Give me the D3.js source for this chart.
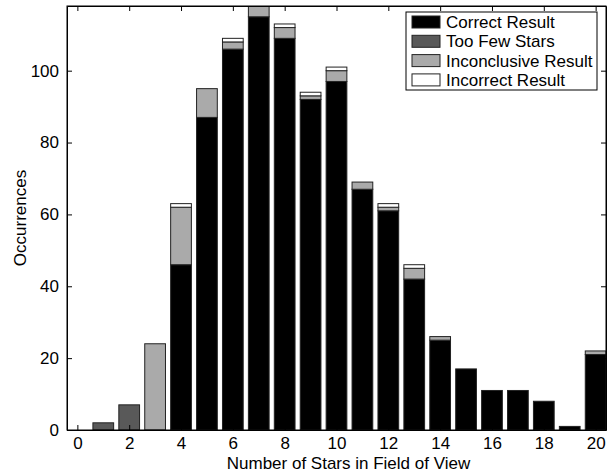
<!DOCTYPE html>
<html>
<head>
<meta charset="utf-8">
<script src="https://cdn.jsdelivr.net/npm/d3@7"></script>
<style>
  html, body { margin: 0; padding: 0; background: #fff; }
  svg { display: block; }
  text { font-family: "Liberation Sans", Arial, Helvetica, sans-serif; }
</style>
</head>
<body>
<div id="chart"></div>
<script>
// ---- data ----
const starCounts = d3.range(0, 21);
const correct      = [0, 0, 0, 0, 46, 87, 106, 115, 109, 92, 97, 67, 61, 42, 25, 17, 11, 11, 8, 1, 21];
const tooFew       = [0, 2, 7, 0, 0, 0, 0, 0, 0, 0, 0, 0, 0, 0, 0, 0, 0, 0, 0, 0, 0];
const inconclusive = [0, 0, 0, 24, 16, 8, 2, 3, 3, 1, 3, 2, 1, 3, 1, 0, 0, 0, 0, 0, 1];
const incorrect    = [0, 0, 0, 0, 1, 0, 1, 0, 1, 1, 1, 0, 1, 1, 0, 0, 0, 0, 0, 0, 0];
const seriesNames  = ["Correct Result", "Too Few Stars", "Inconclusive Result", "Incorrect Result"];
const xTicks = d3.range(0, 21, 2);
const yTicks = [0, 20, 40, 60, 80, 100];
const xLabel = "Number of Stars in Field of View";
const yLabel = "Occurrences";

const colors = ["#000000", "#595959", "#aaaaaa", "#ffffff"];

const W = 607, H = 473;
const margin = { left: 67, right: 1, top: 6, bottom: 43 };
const svg = d3.select("#chart").append("svg").attr("width", W).attr("height", H);

const x = d3.scaleLinear().domain([-0.4, 20.4]).range([margin.left, W - margin.right]);
const y = d3.scaleLinear().domain([0, 118]).range([H - margin.bottom, margin.top]);

const table = starCounts.map((s, i) => ({
  s, "Correct Result": correct[i], "Too Few Stars": tooFew[i],
  "Inconclusive Result": inconclusive[i], "Incorrect Result": incorrect[i]
}));
const stacked = d3.stack().keys(seriesNames)(table);

svg.append("defs").append("clipPath").attr("id", "clip")
  .append("rect").attr("x", margin.left).attr("y", margin.top)
  .attr("width", W - margin.right - margin.left).attr("height", H - margin.bottom - margin.top);

const barW = x(0.8) - x(0);
const g = svg.append("g").attr("clip-path", "url(#clip)");
stacked.forEach((layer, k) => {
  g.selectAll(null).data(layer.filter(d => d[1] - d[0] > 0)).enter().append("rect")
    .attr("x", d => x(d.data.s) - barW / 2)
    .attr("width", barW)
    .attr("y", d => y(d[1]))
    .attr("height", d => y(d[0]) - y(d[1]))
    .attr("fill", colors[k])
    .attr("stroke", "#222")
    .attr("stroke-width", 1);
});

// axes (box with inward ticks)
const fs = 17;
const axB = svg.append("g").attr("transform", `translate(0,${y(0)})`)
  .call(d3.axisBottom(x).tickValues(xTicks).tickSizeInner(-5).tickSizeOuter(0).tickPadding(7));
const axT = svg.append("g").attr("transform", `translate(0,${margin.top})`)
  .call(d3.axisTop(x).tickValues(xTicks).tickSizeInner(-5).tickSizeOuter(0).tickFormat(""));
const axL = svg.append("g").attr("transform", `translate(${margin.left},0)`)
  .call(d3.axisLeft(y).tickValues(yTicks).tickSizeInner(-5).tickSizeOuter(0).tickPadding(8));
const axR = svg.append("g").attr("transform", `translate(${W - margin.right},0)`)
  .call(d3.axisRight(y).tickValues(yTicks).tickSizeInner(-5).tickSizeOuter(0).tickFormat(""));
[axB, axT, axL, axR].forEach(a => {
  a.select(".domain").attr("stroke", "#000").attr("stroke-width", 1);
  a.selectAll(".tick line").attr("stroke", "#000");
  a.selectAll("text").attr("font-size", fs).attr("fill", "#000")
    .style("font-family", '"Liberation Sans", Arial, sans-serif');
});
svg.append("rect").attr("x", margin.left).attr("y", margin.top)
  .attr("width", W - margin.right - margin.left).attr("height", y(0) - margin.top)
  .attr("fill", "none").attr("stroke", "#000").attr("stroke-width", 1);

svg.append("text").attr("x", (margin.left + W - margin.right) / 2 + 12).attr("y", 469)
  .attr("text-anchor", "middle").attr("font-size", fs).text(xLabel);
svg.append("text").attr("transform", `translate(26,${(margin.top + y(0)) / 2}) rotate(-90)`)
  .attr("text-anchor", "middle").attr("font-size", fs).text(yLabel);

// legend
const lg = svg.append("g");
const lx = 406, ly = 12, lw = 191, lh = 78;
lg.append("rect").attr("x", lx).attr("y", ly).attr("width", lw).attr("height", lh)
  .attr("fill", "#fff").attr("stroke", "#000").attr("stroke-width", 1);
seriesNames.forEach((n, i) => {
  const cy = ly + 10 + i * 19.3;
  lg.append("rect").attr("x", lx + 6).attr("y", cy - 6).attr("width", 28).attr("height", 12)
    .attr("fill", colors[i]).attr("stroke", "#222");
  lg.append("text").attr("x", lx + 40).attr("y", cy).attr("dy", "0.35em")
    .attr("font-size", fs).text(n);
});
</script>
</body>
</html>
